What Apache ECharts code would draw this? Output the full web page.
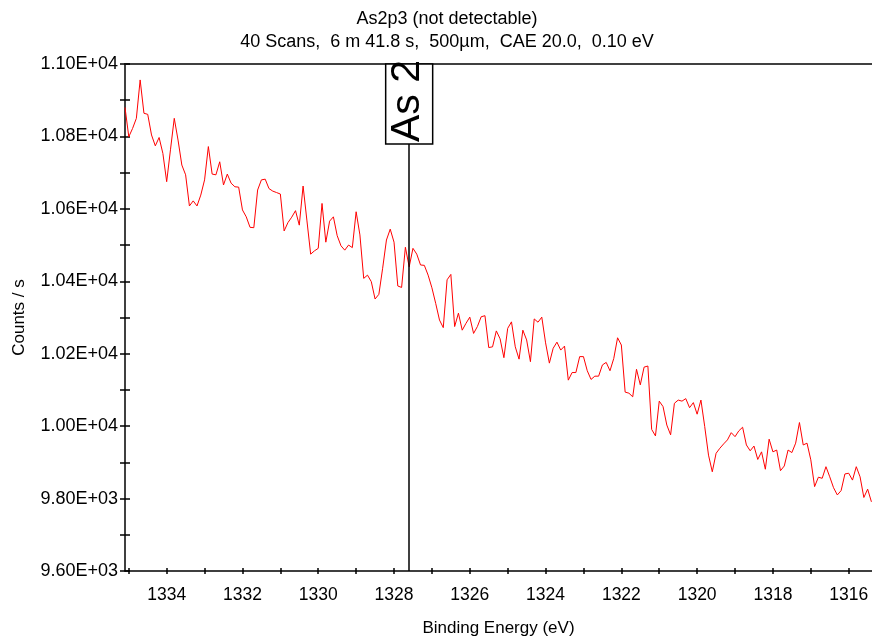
<!DOCTYPE html>
<html>
<head>
<meta charset="utf-8">
<script src="https://cdn.jsdelivr.net/npm/echarts@6/dist/echarts.min.js"></script>
<style>
  html, body { margin: 0; padding: 0; background: #fff; }
  #chart { width: 872px; height: 639px; }
</style>
</head>
<body>
<div id="chart"></div>
<script>
// scan grid (0.10 eV step, high binding energy first)
const energyStart = 1335.1;
const energyStep = 0.1;

// counts / s
const counts = [
  10880, 10799, 10822, 10850, 10956, 10864, 10861, 10804, 10774, 10797,
  10753, 10675, 10763, 10850, 10790, 10721, 10694, 10608, 10622, 10608,
  10638, 10680, 10772, 10696, 10694, 10730, 10666, 10696, 10671, 10661,
  10660, 10597, 10578, 10549, 10548, 10652, 10680, 10682, 10656, 10649,
  10645, 10641, 10539, 10562, 10577, 10595, 10555, 10663, 10569, 10475,
  10484, 10491, 10615, 10508, 10566, 10578, 10526, 10498, 10486, 10500,
  10493, 10592, 10528, 10408, 10417, 10399, 10351, 10364, 10436, 10514,
  10544, 10508, 10387, 10383, 10494, 10440, 10491, 10475, 10445, 10444,
  10417, 10382, 10339, 10293, 10272, 10404, 10419, 10275, 10312, 10265,
  10284, 10301, 10256, 10275, 10302, 10305, 10217, 10219, 10263, 10241,
  10189, 10270, 10288, 10219, 10185, 10265, 10238, 10178, 10296, 10287,
  10301, 10230, 10174, 10215, 10232, 10210, 10221, 10127, 10148, 10148,
  10192, 10192, 10153, 10129, 10138, 10138, 10169, 10176, 10153, 10187,
  10244, 10224, 10094, 10091, 10081, 10157, 10114, 10163, 10166, 9991,
  9973, 10069, 10054, 10003, 9976, 10063, 10072, 10069, 10076, 10051,
  10065, 10033, 10072, 9999, 9920, 9874, 9925, 9939, 9951, 9962,
  9982, 9971, 9987, 9997, 9948, 9932, 9945, 9908, 9929, 9881,
  9964, 9929, 9934, 9877, 9890, 9934, 9927, 9953, 10010, 9948,
  9953, 9907, 9833, 9859, 9856, 9888, 9860, 9830, 9810, 9822,
  9868, 9870, 9851, 9888, 9860, 9803, 9826, 9791
];

const xTicks = [1316, 1317, 1318, 1319, 1320, 1321, 1322, 1323, 1324, 1325,
  1326, 1327, 1328, 1329, 1330, 1331, 1332, 1333, 1334, 1335];
const xLabels = [1316, 1318, 1320, 1322, 1324, 1326, 1328, 1330, 1332, 1334];
const yTicks = [9600, 9700, 9800, 9900, 10000, 10100, 10200, 10300, 10400,
  10500, 10600, 10700, 10800, 10900, 11000];
const yLabels = [9600, 9800, 10000, 10200, 10400, 10600, 10800, 11000];

const xMin = 1315.385;
const xMax = 1335.1;
const yMin = 9600;
const yMax = 11000;

// peak marker
const markerPos = 1327.6;
const markerText = 'As 2';

const titleLine1 = 'As2p3 (not detectable)';
const titleLine2 = '40 Scans,  6 m 41.8 s,  500µm,  CAE 20.0,  0.10 eV';

const FONT = '"Liberation Sans", Arial, sans-serif';

const points = counts.map((c, i) => [+(energyStart - i * energyStep).toFixed(1), c]);

function sci(v) {
  const e = Math.floor(Math.log10(v) + 1e-9);
  const m = v / Math.pow(10, e);
  return m.toFixed(2) + 'E+' + String(e).padStart(2, '0');
}

const chart = echarts.init(document.getElementById('chart'));

const xBase = {
  type: 'value',
  inverse: true,
  min: xMin,
  max: xMax,
  splitLine: { show: false },
};
const yBase = {
  type: 'value',
  min: yMin,
  max: yMax,
  interval: 200,
  splitLine: { show: false },
};

const options = {
  animation: false,
  grid: { left: 125, right: 0, top: 64, bottom: 68, containLabel: false, outerBoundsMode: 'none' },
  xAxis: [
    Object.assign({}, xBase, {
      position: 'bottom',
      name: 'Binding Energy (eV)',
      nameLocation: 'middle',
      nameGap: 49,
      nameTextStyle: { color: '#000', fontSize: 17, fontFamily: FONT },
      axisLine: { show: true, lineStyle: { color: '#000', width: 1.5 } },
      axisTick: { show: true, length: 3, lineStyle: { color: '#000', width: 1.5 }, customValues: xTicks },
      axisLabel: {
        show: true, color: '#000', fontSize: 17.5, fontFamily: FONT, margin: 15,
        customValues: xLabels,
        formatter: (v) => String(v),
      },
    }),
    Object.assign({}, xBase, {
      position: 'bottom',
      axisLine: { show: false },
      axisTick: { show: true, inside: true, length: 3, lineStyle: { color: '#000', width: 1.5 }, customValues: xTicks },
      axisLabel: { show: false },
    }),
    Object.assign({}, xBase, {
      position: 'top',
      axisLine: { show: true, lineStyle: { color: '#404040', width: 2 } },
      axisTick: { show: false },
      axisLabel: { show: false },
    }),
  ],
  yAxis: [
    Object.assign({}, yBase, {
      position: 'left',
      name: 'Counts / s',
      nameLocation: 'middle',
      nameGap: 97,
      nameTextStyle: { color: '#000', fontSize: 17, fontFamily: FONT },
      axisLine: { show: true, lineStyle: { color: '#000', width: 1.5 } },
      axisTick: { show: true, length: 5, lineStyle: { color: '#000', width: 1.5 }, customValues: yTicks },
      axisLabel: {
        show: true, color: '#000', fontSize: 18, fontFamily: FONT, margin: 7,
        customValues: yLabels,
        formatter: (v) => sci(v),
      },
    }),
    Object.assign({}, yBase, {
      position: 'left',
      axisLine: { show: false },
      axisTick: { show: true, inside: true, length: 5, lineStyle: { color: '#000', width: 1.5 }, customValues: yTicks },
      axisLabel: { show: false },
    }),
  ],
  series: [
    {
      type: 'line',
      xAxisIndex: 0,
      yAxisIndex: 0,
      data: points,
      showSymbol: false,
      symbol: 'none',
      lineStyle: { color: '#ff0000', width: 1 },
      clip: true,
      markLine: {
        silent: true,
        symbol: 'none',
        label: { show: false },
        lineStyle: { color: '#000', width: 1.5, type: 'solid' },
        data: [{ xAxis: markerPos }],
      },
    },
  ],
};

chart.setOption(options);

// title + marker label box
const markerX = chart.convertToPixel({ xAxisIndex: 0 }, markerPos);
const plotTop = chart.convertToPixel({ yAxisIndex: 0 }, yMax);
const boxW = 47;
const boxH = 80;

chart.setOption({
  graphic: [
    {
      type: 'text', x: 447, y: 19, z: 10,
      style: { text: titleLine1, font: '18px ' + FONT, fill: '#000', align: 'center', verticalAlign: 'middle', textAlign: 'center', textVerticalAlign: 'middle' },
    },
    {
      type: 'text', x: 447, y: 42, z: 10,
      style: { text: titleLine2, font: '18px ' + FONT, fill: '#000', align: 'center', verticalAlign: 'middle', textAlign: 'center', textVerticalAlign: 'middle' },
    },
    {
      type: 'rect', z: 20,
      shape: { x: markerX - boxW / 2, y: plotTop, width: boxW, height: boxH },
      style: { fill: '#fff', stroke: '#000', lineWidth: 1.5 },
    },
    {
      type: 'text', z: 21,
      x: markerX - 1, y: plotTop + boxH - 2,
      rotation: Math.PI / 2,
      style: { text: markerText, font: '41px ' + FONT, fill: '#000', align: 'left', verticalAlign: 'middle', textAlign: 'left', textVerticalAlign: 'middle' },
    },
  ],
});

window.addEventListener('resize', () => chart.resize());
</script>
</body>
</html>
